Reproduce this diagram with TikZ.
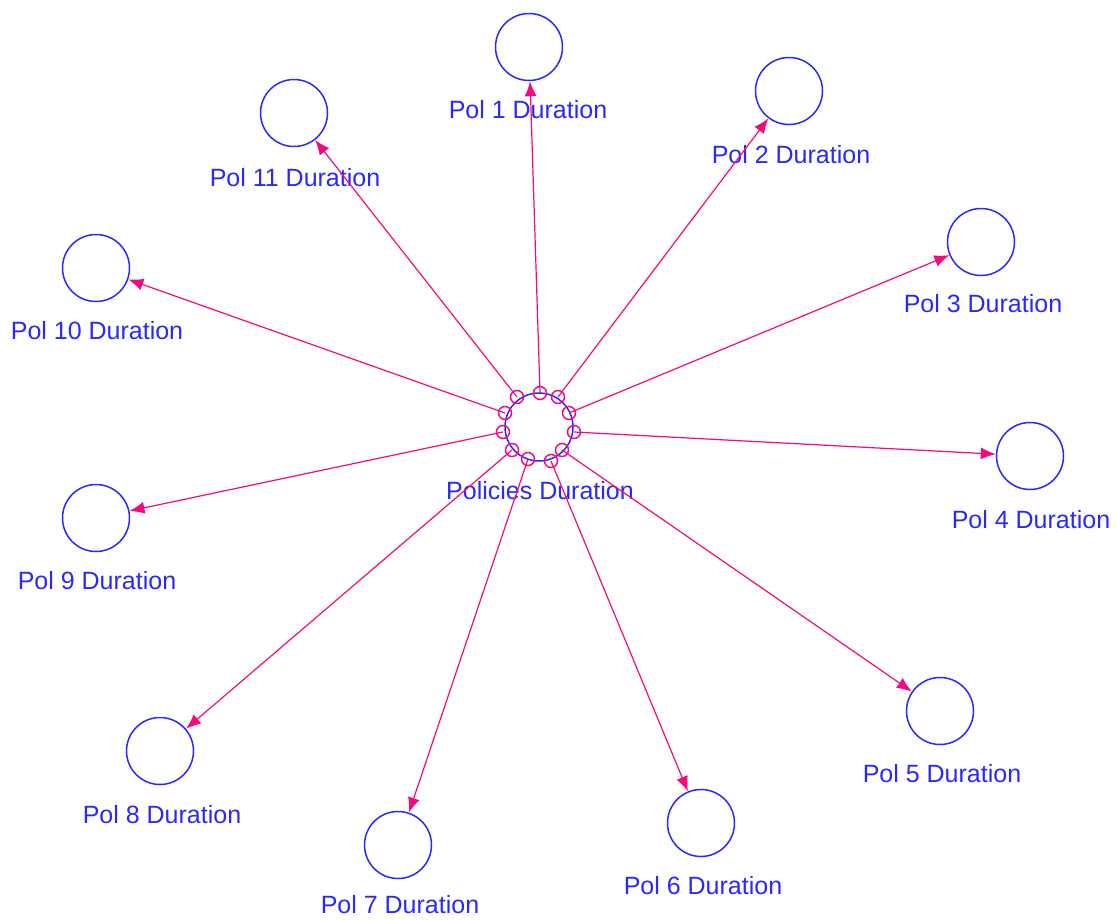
\documentclass[tikz,border=0pt]{standalone}
\usepackage{fontspec}
\setmainfont{Liberation Sans}
\usetikzlibrary{arrows.meta}
\definecolor{vblue}{RGB}{40,40,255}
\definecolor{vpink}{RGB}{245,10,125}
\begin{document}
\begin{tikzpicture}[x=1pt,y=-1pt,
  big/.style={circle,draw=vblue,line width=1.5pt,minimum size=67pt,inner sep=0pt},
  small/.style={circle,draw=vpink,line width=1.5pt,minimum size=13pt,inner sep=0pt},
  lbl/.style={text=vblue,font=\fontsize{25}{27}\selectfont,inner sep=0pt},
  arr/.style={draw=vpink,line width=1.2pt,-{Latex[length=15pt,width=12pt]}}]
\useasboundingbox (0,0) rectangle (1117,919);
% ring
\coordinate (ctr) at (539,427);
\draw[vblue,line width=1.5pt] (ctr) circle (34);
% small circles
\node[small] (s1) at (540,393) {};
\node[small] (s2) at (558,397) {};
\node[small] (s3) at (569,413) {};
\node[small] (s4) at (574,432) {};
\node[small] (s5) at (562,450) {};
\node[small] (s6) at (551,461) {};
\node[small] (s7) at (528,459) {};
\node[small] (s8) at (512,450) {};
\node[small] (s9) at (503,432) {};
\node[small] (s10) at (505,413) {};
\node[small] (s11) at (517,397) {};
\node[lbl] (lc) at (540,491) {Policies Duration};
% big circles
\node[big] (p1) at (529,47) {};
\node[big] (p2) at (789,91) {};
\node[big] (p3) at (981,242) {};
\node[big] (p4) at (1030,456) {};
\node[big] (p5) at (940,711) {};
\node[big] (p6) at (701,823) {};
\node[big] (p7) at (398,845) {};
\node[big] (p8) at (160,751) {};
\node[big] (p9) at (96,518) {};
\node[big] (p10) at (96,268) {};
\node[big] (p11) at (294,113) {};
% labels
\node[lbl] (l1) at (528,110) {Pol 1 Duration};
\node[lbl] (l2) at (791,155) {Pol 2 Duration};
\node[lbl] (l3) at (983,304) {Pol 3 Duration};
\node[lbl] (l4) at (1031,520) {Pol 4 Duration};
\node[lbl] (l5) at (942,774) {Pol 5 Duration};
\node[lbl] (l6) at (703,886) {Pol 6 Duration};
\node[lbl] (l7) at (400,905) {Pol 7 Duration};
\node[lbl] (l8) at (162,815) {Pol 8 Duration};
\node[lbl] (l9) at (97,581) {Pol 9 Duration};
\node[lbl] (l10) at (97,331) {Pol 10 Duration};
\node[lbl] (l11) at (295,178) {Pol 11 Duration};
% arrows
\foreach \i in {1,...,11} {
  \draw[arr] (s\i.center) -- (p\i);
}
\end{tikzpicture}
\end{document}
